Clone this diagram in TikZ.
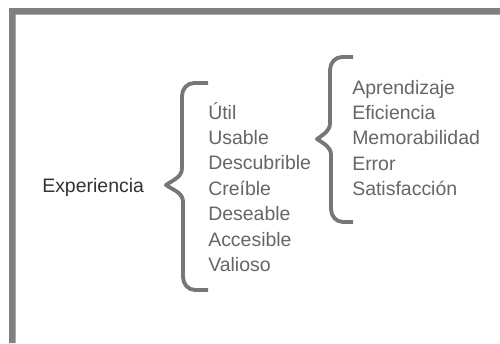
\documentclass[tikz,border=0pt]{standalone}
\usepackage{fontspec}
\setmainfont{Liberation Sans}
\usepackage{tikz}
\usetikzlibrary{positioning}
\definecolor{framegray}{HTML}{808080}
\definecolor{bracegray}{HTML}{777777}
\definecolor{itemgray}{HTML}{666666}
\definecolor{textdark}{HTML}{333333}
\tikzset{
  word/.style={anchor=base west, inner sep=0pt, font=\fontsize{14.6}{17}\selectfont, text=itemgray},
  rootword/.style={word, text=textdark},
  brace/.style={draw=bracegray, line width=2.9pt, line join=round},
}

\begin{document}
\begin{tikzpicture}[x=0.75pt, y=-0.75pt]
  \useasboundingbox[fill=white] (0,0) rectangle (500,343);
  % Frame
  \fill[framegray] (9,343) -- (9,8) -- (500,8) -- (500,14.5) -- (15.5,14.5) -- (15.5,343) -- cycle;

  % Root
  \node[rootword] (exp) at (42,192) {Experiencia};

  % First list
  \foreach \w [count=\i] in {Útil,Usable,Descubrible,Creíble,Deseable,Accesible,Valioso}
    \node[word] (u\i) at (208,{119+25.45*(\i-1)}) {\w};

  % Second list
  \foreach \w [count=\i] in {Aprendizaje,Eficiencia,Memorabilidad,Error,Satisfacción}
    \node[word] (m\i) at (352,{94+25.45*(\i-1)}) {\w};

  % Braces
  \draw[brace] (208,83) -- (194,83) to[out=180,in=90] (182,96) -- (182,168)
    to[out=-90,in=35] (166,185) to[out=-35,in=90] (183,202) -- (183,277)
    to[out=-90,in=180] (195,290) -- (208,290);
  \draw[brace] (353,57) -- (342,57) to[out=180,in=90] (330,70) -- (330,123)
    to[out=-90,in=35] (317,139) to[out=-35,in=90] (331,155) -- (331,209)
    to[out=-90,in=180] (343,222) -- (353,222);
\end{tikzpicture}
\end{document}
